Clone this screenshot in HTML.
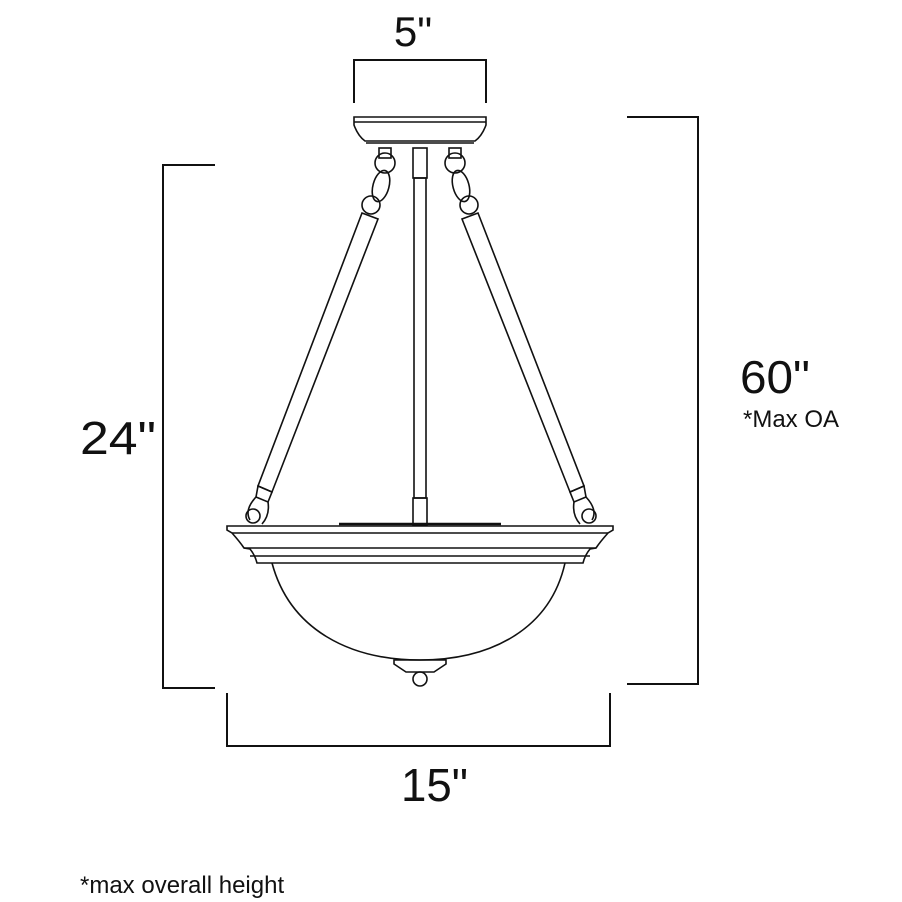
<!DOCTYPE html><html><head><style>body{margin:0;background:#fff}svg{display:block}text{font-family:"Liberation Sans",sans-serif;fill:#111}</style></head><body>
<svg width="902" height="902" viewBox="0 0 902 902" fill="none" stroke="#111" stroke-width="2">
<polyline points="354,103 354,60 486,60 486,103"/>
<text x="413" y="46" font-size="42" stroke="none" text-anchor="middle">5"</text>
<polyline points="215,165 163,165 163,688 215,688"/>
<text x="80" y="454" font-size="46" stroke="none" textLength="76" lengthAdjust="spacingAndGlyphs">24"</text>
<polyline points="627,117 698,117 698,684 627,684"/>
<text x="740" y="393" font-size="46" stroke="none" textLength="70" lengthAdjust="spacingAndGlyphs">60"</text>
<text x="743" y="427" font-size="24" stroke="none">*Max OA</text>
<polyline points="227,693 227,746 610,746 610,693"/>
<text x="401" y="801" font-size="46" stroke="none" textLength="67" lengthAdjust="spacingAndGlyphs">15"</text>
<text x="80" y="893" font-size="24" stroke="none">*max overall height</text>
<g stroke-width="1.6">
<path d="M354,117 H486 V125 Q482,136 475,141 H365 Q358,136 354,125 Z"/>
<line x1="354" y1="122" x2="486" y2="122"/>
<line x1="366" y1="143" x2="474" y2="143"/>
<rect x="413" y="148" width="14" height="30"/>
<rect x="414" y="178" width="12" height="320"/>
<rect x="413" y="498" width="14" height="27"/>
<rect x="379" y="148" width="12" height="10"/>
<circle cx="385" cy="163" r="10"/><ellipse cx="381" cy="186" rx="8" ry="16" transform="rotate(15 381 186)"/>
<circle cx="371" cy="205" r="9"/>
<path d="M362,213 L378,219 L272,492 L258,486 Z"/>
<path d="M258,486 L272,492 L268,502 L256,497 Z"/>
<path d="M256,497 Q244,510 250,520 M268,502 Q270,515 262,524"/>
<circle cx="253" cy="516" r="7"/>
<rect x="449" y="148" width="12" height="10"/>
<circle cx="455" cy="163" r="10"/><ellipse cx="461" cy="186" rx="8" ry="16" transform="rotate(-15 461 186)"/>
<circle cx="469" cy="205" r="9"/>
<path d="M462,219 L478,213 L584,486 L570,492 Z"/>
<path d="M570,492 L584,486 L586,497 L574,502 Z"/>
<path d="M586,497 Q598,510 592,520 M574,502 Q572,515 580,524"/>
<circle cx="589" cy="516" r="7"/>
<line x1="339" y1="524" x2="501" y2="524" stroke-width="2.5"/>
<path d="M227,526 H613 V530 L608,533 Q600,542 596,548 L590,549 Q585,555 583,563 H257 Q255,555 250,549 L244,548 Q240,542 232,533 L227,530 Z"/>
<line x1="232" y1="533" x2="608" y2="533"/>
<line x1="244" y1="548" x2="596" y2="548"/>
<line x1="250" y1="556" x2="590" y2="556"/>
<path d="M272,563 C290,630 350,660 420,660 C490,660 550,630 565,563"/>
<path d="M394,660 H446 V664 L434,672 H406 L394,664 Z"/>
<circle cx="420" cy="679" r="7"/>
</g>
</svg></body></html>
